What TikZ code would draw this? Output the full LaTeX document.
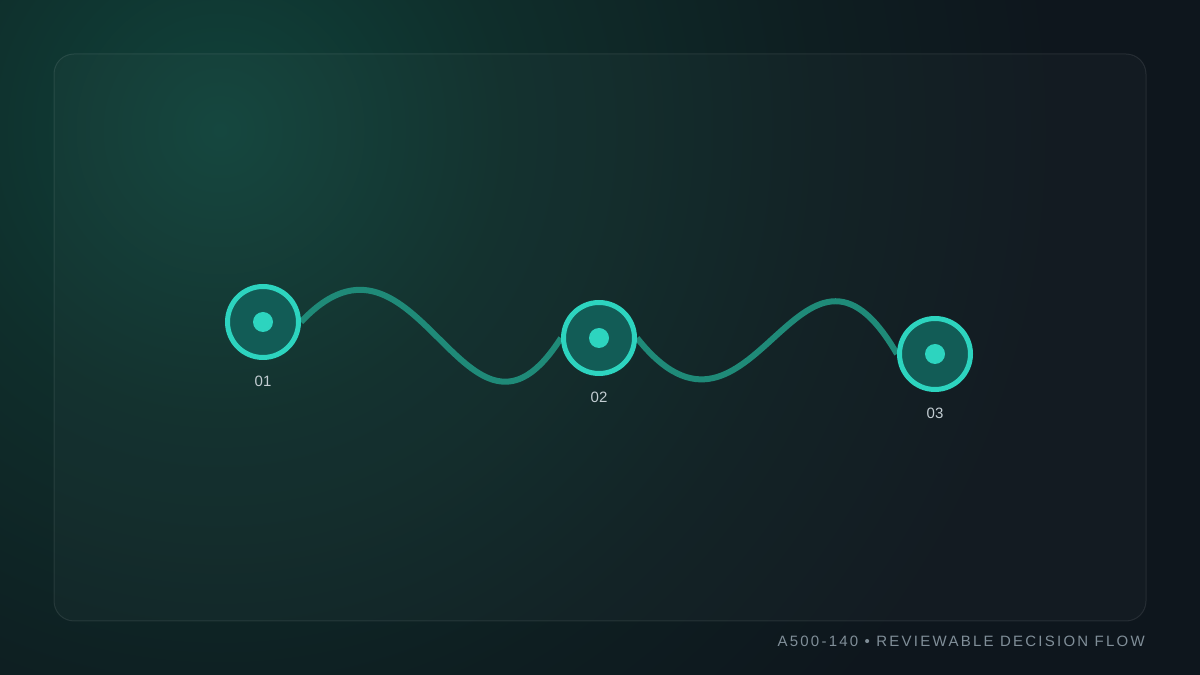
\documentclass[tikz,border=0pt]{standalone}
\usepackage{fontspec}
\setmainfont{Liberation Sans}
\usetikzlibrary{positioning}
\definecolor{bgbase}{HTML}{0E161D}
\definecolor{bgfar}{HTML}{0E1E21}
\definecolor{bgmid}{HTML}{0F2E2B}
\definecolor{bgglow}{HTML}{10433B}
\definecolor{ringteal}{HTML}{2DD4BF}
\definecolor{innerteal}{HTML}{125C56}
\definecolor{waveteal}{HTML}{1F8A78}
\definecolor{labelgray}{HTML}{C3CDD2}
\definecolor{captiongray}{HTML}{808E98}
\pgfdeclareradialshading{glow}{\pgfpoint{0bp}{0bp}}{color(0bp)=(bgglow); color(6bp)=(bgmid); color(12.5bp)=(bgfar); color(17.5bp)=(bgbase); color(50bp)=(bgbase)}
\pgfdeclarelayer{back}
\pgfdeclarelayer{front}
\pgfsetlayers{back,main,front}
\begin{document}
\begin{tikzpicture}[x=1pt,y=1pt,
    stepnode/.style={circle, draw=ringteal, line width=5pt, fill=innerteal, minimum size=71pt, inner sep=0pt},
    stepdot/.style={circle, fill=ringteal, minimum size=20pt, inner sep=0pt},
    steplabel/.style={text=labelgray, font=\fontsize{15}{18}\selectfont},
    wave/.style={draw=waveteal, line width=6pt}]
    \useasboundingbox (0,0) rectangle (1200,675);
    \begin{pgfonlayer}{back}
        % background with glow top left
        \fill[bgbase] (0,0) rectangle (1200,675);
        \begin{scope}
            \clip (0,0) rectangle (1200,675);
            \shade[shading=glow] (220,545) circle (1200);
        \end{scope}
        % panel
        \draw[rounded corners=20pt, fill=white, fill opacity=0.022, draw=white, draw opacity=0.09, line width=1pt] (54,54) rectangle (1146,621);
    \end{pgfonlayer}
    % steps
    \begin{pgfonlayer}{front}
        \node[stepnode] (n1) at (263,353) {};
        \node[stepnode] (n2) at (599,337) {};
        \node[stepnode] (n3) at (935,321) {};
        \node[stepdot] (d1) at (n1) {};
        \node[stepdot] (d2) at (n2) {};
        \node[stepdot] (d3) at (n3) {};
    \end{pgfonlayer}
    \draw[wave] (n1.east) .. controls (418,478) and (466,188) .. (n2.west);
    \draw[wave] (n2.east) .. controls (752,192) and (800,488) .. (n3.west);
    \node[steplabel, below=12pt of n1] (l1) {01};
    \node[steplabel, below=12pt of n2] (l2) {02};
    \node[steplabel, below=12pt of n3] (l3) {03};
    % caption
    \node[anchor=base east, inner sep=0pt, text=captiongray, font=\fontsize{15}{18}\selectfont\addfontfeatures{LetterSpace=15}] (cap) at (1145,28) {A500-140 • REVIEWABLE DECISION FLOW};
\end{tikzpicture}
\end{document}
